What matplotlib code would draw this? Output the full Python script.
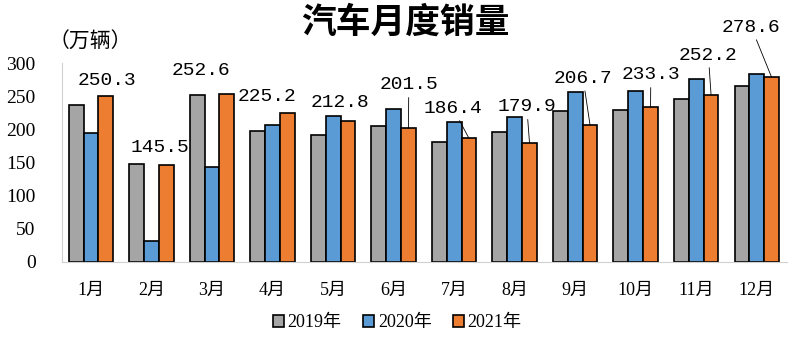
import numpy as np
import matplotlib.pyplot as plt

months = ['1月', '2月', '3月', '4月', '5月', '6月', '7月', '8月', '9月', '10月', '11月', '12月']
sales_2019 = [236.7, 148.1, 252.0, 198.0, 191.3, 205.6, 180.8, 195.8, 227.1, 228.4, 245.2, 265.8]
sales_2020 = [194.4, 31.0, 143.0, 207.0, 219.4, 230.1, 211.2, 218.6, 256.5, 257.3, 276.5, 283.1]
sales_2021 = [250.3, 145.5, 252.6, 225.2, 212.8, 201.5, 186.4, 179.9, 206.7, 233.3, 252.2, 278.6]
series_names = ['2019年', '2020年', '2021年']

# label positions (data coords) and whether a leader line is drawn
label_pos = [(0.26, 274), (1.14, 173), (1.82, 289), (2.90, 249), (4.12, 240), (5.25, 267),
             (5.98, 232), (7.20, 234), (8.13, 277), (9.25, 282), (10.2, 312), (10.91, 354)]
leader = [False, False, False, False, False, True, True, True, True, True, True, True]

colors = ['#A5A5A5', '#5B9BD5', '#ED7D31']
cjk = ['Noto Sans CJK SC', 'DejaVu Sans']
serif_cjk = ['Liberation Serif', 'Noto Sans CJK SC']

fig = plt.figure(figsize=(7.95, 3.38), dpi=100)
ax = fig.add_axes([62 / 795, 1 - 262 / 338, (787 - 62) / 795, (262 - 63) / 338])

x = np.arange(len(months))
w = 0.245
for k, (vals, c, name) in enumerate(zip([sales_2019, sales_2020, sales_2021], colors, series_names)):
    ax.bar(x + (k - 1) * w, vals, width=w, color=c, edgecolor='black', linewidth=1.2, label=name)

for i, v in enumerate(sales_2021):
    tx, ty = label_pos[i]
    if leader[i]:
        ax.annotate(f'{v:.1f}', xy=(i + w, v), xytext=(tx, ty), ha='center', va='center',
                    fontsize=14, family='Liberation Mono', annotation_clip=False,
                    arrowprops=dict(arrowstyle='-', color='black', lw=0.6, shrinkA=1, shrinkB=0))
    else:
        ax.text(tx, ty, f'{v:.1f}', ha='center', va='center', fontsize=14,
                family='Liberation Mono', clip_on=False)

ax.set_xlim(-0.48, 11.5)
ax.set_ylim(0, 300)
ax.set_yticks(range(0, 301, 50))
ax.set_xticks(x)
ax.set_xticklabels(months, family=serif_cjk, fontsize=13)
for t in ax.get_yticklabels():
    t.set_family('Liberation Serif')
    t.set_fontsize(14)
ax.tick_params(length=0)
ax.tick_params(axis='y', pad=19)
ax.tick_params(axis='x', pad=14)
for s in ['top', 'right']:
    ax.spines[s].set_visible(False)
ax.spines['left'].set_color('#D0D0D0')
ax.spines['bottom'].set_color('#D0D0D0')

fig.text(0.51, 0.935, '汽车月度销量', ha='center', va='center', fontsize=25,
         fontweight='bold', family=cjk)
fig.text(0.114, 0.875, '（万辆）', ha='center', va='center', fontsize=15, family=cjk)

leg = fig.legend(loc='center', bbox_to_anchor=(0.5, 0.045), ncol=3, frameon=False,
                 handlelength=0.6, handleheight=0.6, handletextpad=0.2, columnspacing=1.2,
                 prop={'family': serif_cjk, 'size': 13})

fig.savefig('out.png', dpi=100)
